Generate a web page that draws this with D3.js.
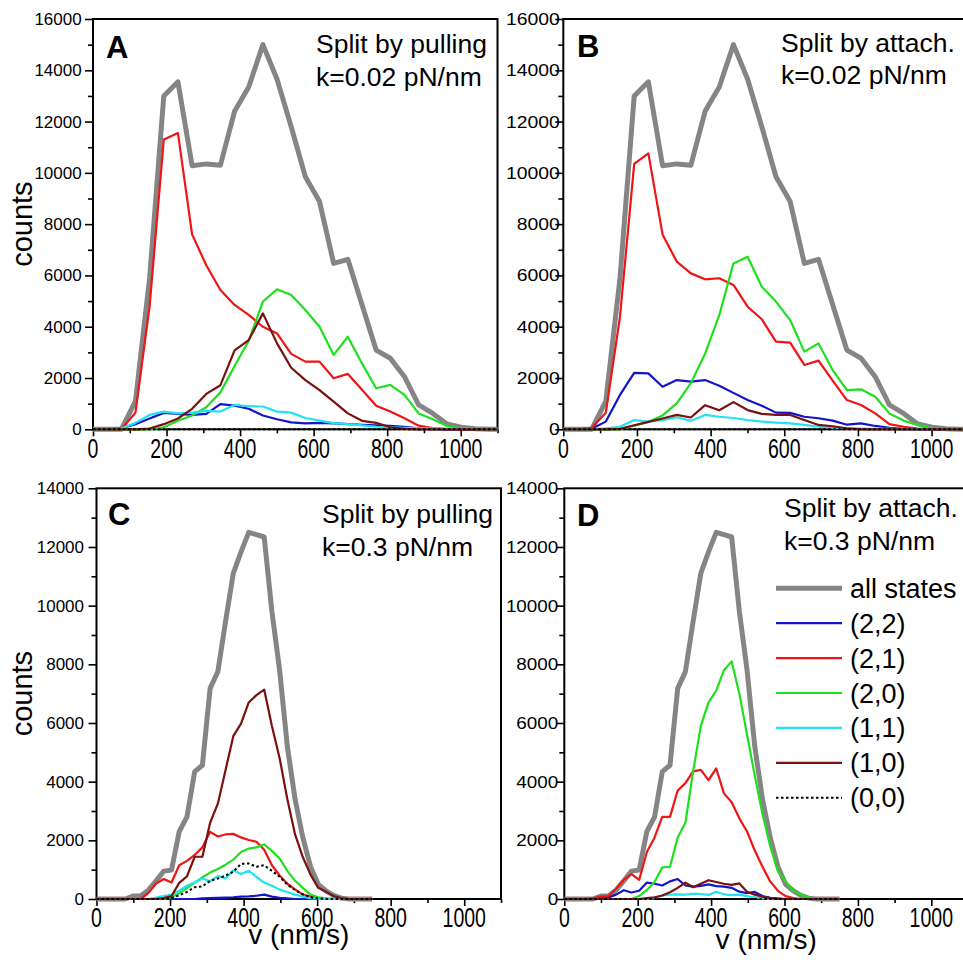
<!DOCTYPE html>
<html><head><meta charset="utf-8">
<script src="https://cdn.jsdelivr.net/npm/d3@7"></script>
<style>
body{margin:0;background:#fff}
svg{display:block}
text{font-family:"Liberation Sans",Arial,Helvetica,sans-serif;fill:#000}
</style>
</head><body>
<svg id="chart" width="963" height="963"></svg>
<script>
// ---------------- DATA ----------------
// velocity bin centres (nm/s)
const binsAB = [0,38.5,77,115.5,154,192.5,231,269.5,308,346.5,385,423.5,462,500.5,539,577.5,616,654.5,693,731.5,770,808.5,847,885.5,924,962.5,1001,1039.5,1078,1116.5];
const binsCD = [0,15,36,57,78,99,120,141,162,183,204,225,246,267,288,309,330,351,372,393,414,435,456,477,498,519,540,561,582,603,624,645,666,687,708,729,750];

const seriesNames = ["all states","(2,2)","(2,1)","(2,0)","(1,1)","(1,0)","(0,0)"];
const xTickValues = [0,200,400,600,800,1000];

// k = 0.02 pN/nm
const allAB = [0,0,0,1100,5900,13000,13550,10280,10350,10300,12400,13350,15000,13650,11800,9850,8880,6470,6630,4860,3090,2770,2050,950,620,210,80,20,0,0];
const A_22 = [0,0,40,200,420,640,600,560,600,980,920,800,540,390,270,230,250,230,200,170,150,130,100,40,20,0,0,0,0,0];
const A_21 = [0,0,0,650,4800,11300,11550,7600,6400,5430,4850,4460,4000,3740,2940,2640,2640,1990,2160,1540,920,690,430,140,50,10,0,0,0,0];
const A_20 = [0,0,0,0,0,80,330,540,860,1440,2470,3450,4980,5460,5240,4650,4000,2900,3610,2570,1600,1730,1340,620,390,130,30,0,0,0];
const A_11 = [0,0,30,250,560,690,620,650,720,690,950,900,890,690,650,440,340,240,200,150,100,80,60,50,40,30,20,20,10,10];
const A_10 = [0,0,0,0,30,200,420,800,1380,1720,3080,3480,4520,3350,2400,1920,1530,1080,620,330,250,80,20,0,0,0,0,0,0,0];
const A_00 = [0,0,0,0,0,0,0,0,0,0,0,0,0,0,0,0,0,0,0,0,0,0,0,0,0,0,0,0,0,0];

const B_22 = [0,0,20,300,1340,2200,2180,1660,1920,1860,1920,1700,1420,1140,920,650,640,490,430,340,180,230,130,60,20,0,0,0,0,0];
const B_21 = [0,0,50,650,4400,10350,10760,7600,6540,6080,5850,5890,5630,4780,4290,3420,3380,2510,2680,1900,1140,950,620,200,100,30,0,0,0,0];
const B_20 = [0,0,0,0,0,140,290,540,1010,1800,2950,4450,6470,6730,5560,4980,4260,3030,3350,2310,1530,1560,1270,620,340,170,40,0,0,0];
const B_11 = [0,0,10,40,100,360,300,360,470,330,560,490,440,360,300,260,230,170,100,60,40,30,20,20,10,10,10,5,5,0];
const B_10 = [0,0,0,0,20,160,290,420,560,460,940,740,1060,750,600,560,560,360,170,120,40,0,0,0,0,0,0,0,0,0];
const B_00 = [0,0,0,0,0,0,0,0,0,0,0,0,0,0,0,0,0,0,0,0,0,0,0,0,0,0,0,0,0,0];

// k = 0.3 pN/nm
const allCD = [0,0,0,0,0,100,100,300,620,950,990,2300,2800,4340,4560,7180,7750,9460,11100,11830,12500,12420,12340,9800,7800,5200,3400,2100,1100,500,280,120,30,0,0,0,0];
const C_22 = [0,0,0,0,0,0,0,0,0,0,0,0,0,0,20,30,40,50,60,80,90,110,150,80,40,20,0,0,0,0,0,0,0,0,0,0,0];
const C_21 = [0,0,0,0,0,0,0,200,530,680,560,1150,1300,1500,1760,2290,2130,2200,2220,2100,2010,1950,1680,1150,800,520,330,150,80,20,0,0,0,0,0,0,0];
const C_20 = [0,0,0,0,0,0,0,0,0,0,60,200,370,560,740,900,1020,1170,1340,1600,1720,1760,1860,1640,1380,960,620,380,150,60,20,0,0,0,0,0,0];
const C_11 = [0,0,0,0,0,0,0,0,50,100,150,280,450,560,700,600,780,710,980,850,960,750,560,450,320,240,150,80,30,10,10,10,10,10,10,10,0];
const C_10 = [0,0,0,0,0,0,0,0,0,30,100,550,770,1440,1440,2600,3250,4400,5550,5980,6700,6950,7140,5900,4800,3400,2200,1430,830,380,250,100,30,0,0,0,0];
const C_00 = [0,0,0,0,0,0,0,0,0,0,30,130,240,400,430,620,700,800,930,1200,1210,1100,1150,960,760,490,300,160,60,20,0,0,0,0,0,0,0];

const D_22 = [0,0,0,0,0,30,50,150,300,220,280,560,520,460,600,680,460,420,450,500,440,420,380,250,200,240,100,40,20,0,0,0,0,0,0,0,0];
const D_21 = [0,0,0,0,20,80,100,350,650,850,650,1600,2100,2800,2800,3700,3950,4350,4400,4050,4450,3600,3300,2750,2300,1650,1100,600,280,100,30,0,0,0,0,0,0];
const D_20 = [0,0,0,0,0,0,0,0,0,0,100,310,580,1080,1100,2100,2600,4350,5900,6700,7100,7800,8100,7000,5600,4200,2900,1800,950,600,280,150,50,10,0,0,0];
const D_11 = [0,0,0,0,0,0,0,0,0,0,0,0,30,120,150,160,150,180,170,140,250,160,130,150,100,60,20,0,0,0,0,0,0,0,0,0,0];
const D_10 = [0,0,0,0,0,0,0,0,0,0,0,30,60,120,230,380,560,400,520,640,580,520,480,530,250,150,80,30,0,0,0,0,0,0,0,0,0];
const D_00 = [0,0,0,0,0,0,0,0,0,0,0,0,0,0,0,0,0,0,0,0,0,0,0,0,0,0,0,0,0,0,0,0,0,0,0,0,0];

// ---------------- STYLE / LAYOUT ----------------
const styles = [
  {color:"#858585", width:5, dash:null},
  {color:"#1414cc", width:2.2, dash:null},
  {color:"#f01414", width:2.2, dash:null},
  {color:"#1ee01e", width:2.2, dash:null},
  {color:"#22e2f2", width:2.2, dash:null},
  {color:"#7a1010", width:2.2, dash:null},
  {color:"#000000", width:2, dash:"2.5,2.5"}
];

const panels = [
  {id:"A", bins:binsAB, series:[allAB,A_22,A_21,A_20,A_11,A_10,A_00], yMax:16000,
   l:93, r:497.5, t:19, b:429.3, yGap:11.3, ySx:1, xBase:458, letter:[106,58],
   note:["Split by pulling","k=0.02 pN/nm"], noteX:316, noteY:[53,86], yTitle:true, xTitle:null},
  {id:"B", bins:binsAB, series:[allAB,B_22,B_21,B_20,B_11,B_10,B_00], yMax:16000,
   l:563.3, r:968.4, t:19, b:429.3, yGap:3.5, ySx:1.14, xBase:458, letter:[577,57],
   note:["Split by attach.","k=0.02 pN/nm"], noteX:781, noteY:[52,84], yTitle:false, xTitle:null},
  {id:"C", bins:binsCD, series:[allCD,C_22,C_21,C_20,C_11,C_10,C_00], yMax:14000,
   l:96.5, r:501, t:488.3, b:899, yGap:12.5, ySx:1, xBase:927, letter:[108,525],
   note:["Split by pulling","k=0.3 pN/nm"], noteX:322, noteY:[523,556], yTitle:true, xTitle:944},
  {id:"D", bins:binsCD, series:[allCD,D_22,D_21,D_20,D_11,D_10,D_00], yMax:14000,
   l:564.3, r:968, t:488.3, b:899, yGap:6, ySx:1.11, xBase:927, letter:[577,526],
   note:["Split by attach.","k=0.3 pN/nm"], noteX:784, noteY:[517,550], yTitle:false, xTitle:949}
];

// ---------------- DRAW ----------------
const svg = d3.select("#chart");
const defs = svg.append("defs");

function txt(g, x, y, s, size, o = {}) {
  return g.append("text")
    .attr("transform", `translate(${x},${y}) rotate(${o.rot||0}) scale(${o.sx||1},${o.sy||1})`)
    .attr("text-anchor", o.anchor || "start")
    .attr("font-size", size)
    .attr("font-weight", o.weight || "normal")
    .text(s);
}

panels.forEach(p => {
  const x = d3.scaleLinear().domain([0, 1100]).range([p.l, p.r]);
  const y = d3.scaleLinear().domain([0, p.yMax]).range([p.b, p.t]);
  const g = svg.append("g");

  defs.append("clipPath").attr("id", "clip" + p.id)
    .append("rect").attr("x", x(0)).attr("y", y(p.yMax) - 3)
    .attr("width", x(1100) - x(0)).attr("height", y(0) - y(p.yMax) + 6);

  // frame
  g.append("rect").attr("x", x(0)).attr("y", y(p.yMax))
    .attr("width", x(1100) - x(0)).attr("height", y(0) - y(p.yMax))
    .attr("fill", "none").attr("stroke", "#000").attr("stroke-width", 2);

  // y ticks
  const yMajor = d3.range(0, p.yMax + 1, 2000);
  const yMinor = d3.range(1000, p.yMax, 2000);
  const styleAxis = s => { s.select(".domain").remove(); s.selectAll("line").attr("stroke", "#000").attr("stroke-width", 1.6); };
  g.append("g").attr("transform", `translate(${x(0)},0)`)
    .call(d3.axisLeft(y).tickValues(yMajor).tickSize(8).tickFormat("")).call(styleAxis);
  g.append("g").attr("transform", `translate(${x(0)},0)`)
    .call(d3.axisLeft(y).tickValues(yMinor).tickSize(5).tickFormat("")).call(styleAxis);
  yMajor.forEach(v => txt(g, x(0) - p.yGap, y(v) + 6, d3.format("d")(v), 17, {anchor:"end", sx:p.ySx}));

  // x ticks
  const xMinor = [100,300,500,700,900,1100];
  g.append("g").attr("transform", `translate(0,${y(0)})`)
    .call(d3.axisBottom(x).tickValues(xTickValues).tickSize(7).tickFormat("")).call(styleAxis);
  g.append("g").attr("transform", `translate(0,${y(0)})`)
    .call(d3.axisBottom(x).tickValues(xMinor).tickSize(4).tickFormat("")).call(styleAxis);
  xTickValues.forEach(v => txt(g, x(v), p.xBase, String(v), 19.5, {anchor:"middle", sy:1.4}));

  // series
  const lg = g.append("g").attr("clip-path", `url(#clip${p.id})`);
  p.series.forEach((vals, si) => {
    const st = styles[si];
    const line = d3.line().x((d, i) => x(p.bins[i])).y(d => y(d));
    lg.append("path").datum(vals).attr("d", line)
      .attr("fill", "none").attr("stroke", st.color).attr("stroke-width", st.width)
      .attr("stroke-linejoin", "round").attr("stroke-dasharray", st.dash);
  });

  // panel letter + note
  txt(g, p.letter[0], p.letter[1], p.id, 31, {weight:"bold"});
  txt(g, p.noteX, p.noteY[0], p.note[0], 26.5);
  txt(g, p.noteX, p.noteY[1], p.note[1], 26.5);

  if (p.yTitle) txt(g, 32, (y(0) + y(p.yMax)) / 2, "counts", 29, {anchor:"middle", rot:-90});
  if (p.xTitle) txt(g, (x(0) + x(1100)) / 2, p.xTitle, "v (nm/s)", 28, {anchor:"middle"});

  // legend in panel D
  if (p.id === "D") {
    const lgd = g.append("g");
    seriesNames.forEach((name, i) => {
      const st = styles[i];
      const yy = 588.3 + i * 34.9;
      lgd.append("line").attr("x1", 776).attr("x2", 842).attr("y1", yy).attr("y2", yy)
        .attr("stroke", st.color).attr("stroke-width", st.width).attr("stroke-dasharray", st.dash);
      txt(lgd, 850, yy + 9.5, name, 27);
    });
  }
});
</script>
</body></html>
